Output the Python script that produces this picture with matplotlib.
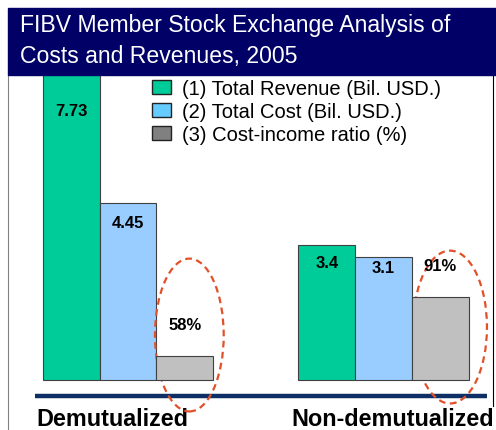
import numpy as np
import matplotlib.pyplot as plt
from matplotlib.patches import Rectangle, Ellipse, Patch

plt.rcParams['font.family'] = ['Liberation Sans', 'DejaVu Sans']

# donnees
groupes = ["Demutualized", "Non-demutualized"]
revenus = [7.73, 3.4]        # (1) Total Revenue (Bil. USD.)
couts = [4.45, 3.1]          # (2) Total Cost (Bil. USD.)
ratio = [58, 91]             # (3) Cost-income ratio (%)
legende = ["(1) Total Revenue (Bil. USD.)",
           "(2) Total Cost (Bil. USD.)",
           "(3) Cost-income ratio (%)"]
titre = "FIBV Member Stock Exchange Analysis of\nCosts and Revenues, 2005"

W, H = 496, 431
fig = plt.figure(figsize=(W / 100, H / 100), dpi=100)

# bandeau du titre
fig.patches.append(Rectangle((8 / W, 1 - 76 / H), 1 - 8 / W, 67 / H,
                             transform=fig.transFigure, color="#000066", zorder=0))
fig.text(20 / W, 1 - 41 / H, titre, color="white", fontsize=16.6,
         va="center", ha="left", linespacing=1.45)

ax = fig.add_axes([8 / W, 0, (493 - 8) / W, (H - 76) / H])
ax2 = ax.twinx()

# echelles (px par unite)
px_x, px_y, px_r = 56.8, 39.8, 1.788
ax.set_xlim(-(128 - 8) / px_x, (493 - 128) / px_x)
ax.set_ylim(-(H - 381) / px_y, (381 - 76) / px_y)
base_r = 44.6
ax2.set_ylim(base_r - (H - 381) / px_r, base_r + (381 - 76) / px_r)

x = np.array([0, 4.5])
bord = dict(edgecolor="#404040", linewidth=0.8)
b1 = ax.bar(x - 1, revenus, 1, color="#00CC99", **bord, zorder=2)
b2 = ax.bar(x, couts, 1, color="#99CCFF", **bord, zorder=2)
r = np.array(ratio) - base_r
b3 = ax2.bar(x + 1, r, 1, bottom=base_r, color="#C0C0C0", **bord, zorder=2)

# etiquettes des valeurs
dec_rev = [-36, -18]
dec_cout = [-20, -11]
for i in range(len(groupes)):
    ax.annotate(f"{revenus[i]}", (x[i] - 1, min(revenus[i], ax.get_ylim()[1])),
                xytext=(0, dec_rev[i] * 0.72), textcoords="offset points",
                ha="center", va="center", fontsize=12, fontweight="bold")
    ax.annotate(f"{couts[i]}", (x[i], couts[i]),
                xytext=(0, dec_cout[i] * 0.72), textcoords="offset points",
                ha="center", va="center", fontsize=12, fontweight="bold")
    ax2.annotate(f"{ratio[i]}%", (x[i] + 1, ratio[i]),
                 xytext=(0, 32 * 0.72), textcoords="offset points",
                 ha="center", va="center", fontsize=12, fontweight="bold")

# ellipses pointillees
decal = [0.08, 0.17]
hauteur_c = [1.13, 1.33]
larg = [1.21, 1.30]
for i in range(len(groupes)):
    ax.add_patch(Ellipse((x[i] + 1 + decal[i], hauteur_c[i]), larg[i], 3.84,
                         fill=False, edgecolor="#E2502A", linewidth=1.6,
                         linestyle=(0, (3, 2)), zorder=4))

# ligne de base bleu marine
ax.plot([-1.64, 6.32], [-0.40, -0.40], color="#0D2F66", linewidth=3.2,
        solid_capstyle="butt", zorder=3)

for i, g in enumerate(groupes):
    ax.text(x[i] - 1.62, ax.get_ylim()[0] + 5 / px_y, g, ha="left", va="baseline",
            fontsize=16.8, fontweight="bold")

# legende
poignees = [Patch(facecolor="#00CC99", edgecolor="#222222"),
            Patch(facecolor="#66CCFF", edgecolor="#222222"),
            Patch(facecolor="#808080", edgecolor="#222222")]
fig.legend(poignees, legende, loc="upper left",
           bbox_to_anchor=(152 / W, 1 - 80 / H), bbox_transform=fig.transFigure,
           frameon=False, fontsize=14.5, handlelength=0.95, handleheight=0.7,
           handletextpad=0.55, labelspacing=0.2, borderpad=0, borderaxespad=0)

for a in (ax, ax2):
    a.set_xticks([])
    a.set_yticks([])
    for s in a.spines.values():
        s.set_visible(False)
ax.spines["left"].set_visible(True)
ax.spines["left"].set_color("#808080")
ax.spines["right"].set_visible(True)
ax.spines["right"].set_color("black")
ax.spines["right"].set_bounds(-(407 - 381) / px_y, ax.get_ylim()[1])

fig.savefig("out.png", dpi=100)
